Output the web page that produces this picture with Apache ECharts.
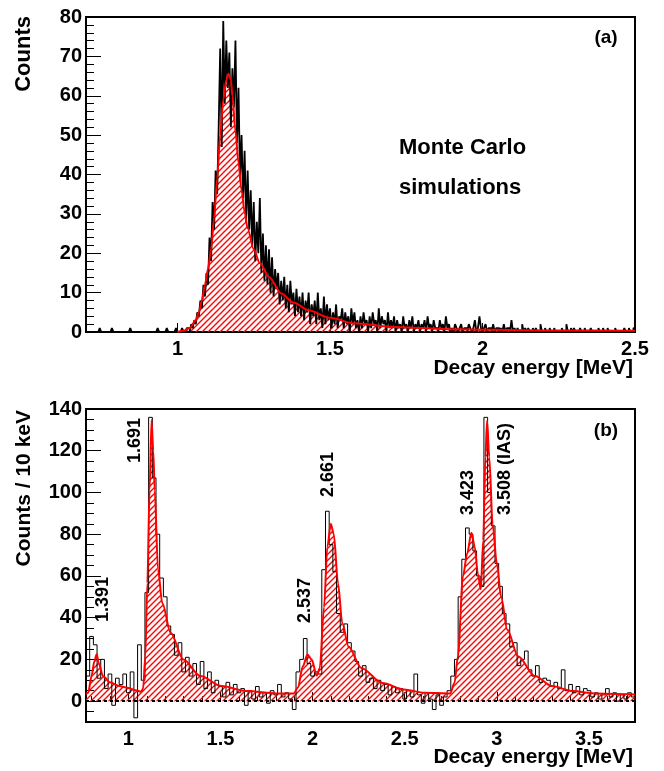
<!DOCTYPE html>
<html><head><meta charset="utf-8">
<script src="https://cdn.jsdelivr.net/npm/echarts@6/dist/echarts.min.js"></script>
<style>html,body{margin:0;padding:0;background:#fff}#c{width:664px;height:771px}</style>
</head><body><div id="c"></div><script>
// ---------- Panel (a): Monte Carlo histogram, 5 keV bins from 0.70 MeV ----------
const topBinStart = 0.70;
const topBinWidth = 0.005;
const topCounts = [
0,0,0,0,0,0,0,0,0,1, 0,0,0,0,0,0,0,1,0,0, 0,0,0,0,0,0,0,0,0,1, 0,0,0,0,0,0,0,0,0,0,
0,0,0,0,0,0,0,1,0,0, 0,0,0,1,0,0,0,0,0,1,
0,0,0,1,0,0,1,1,0,2,
1,3,2,5,4,8,6,12,9,15,
12,24,18,33,26,41,35,52,72,47,
79,58,74,62,71,52,67,57,74,48,
62,39,50,34,46,28,41,26,36,22,
33,18,28,20,34,15,25,13,22,12,
21,10,19,9,16,11,15,7,13,8,
14,6,12,5,13,7,10,4,11,5,
9,4,10,3,8,5,10,2,7,4,
8,2,10,3,6,1,9,2,7,3,
6,1,5,2,7,1,4,3,6,1,
5,2,4,0,6,2,5,1,3,0,
4,1,5,2,3,0,4,1,5,2,
3,0,6,1,4,2,3,0,5,1,
3,1,4,0,3,1,2,0,4,1,
2,0,3,1,4,0,2,1,3,0,
2,1,3,0,4,1,2,0,3,1,
1,0,3,1,2,0,4,1,2,0,
1,0,2,1,0,1,2,0,1,1, 0,2,1,0,1,3,0,1,4,1, 0,1,2,0,1,1,0,2,0,1,
1,0,1,0,2,0,1,1,0,3, 0,1,0,1,0,0,2,0,1,0, 1,0,0,1,0,1,0,0,2,0,
0,1,0,0,1,0,0,1,0,0, 0,0,1,0,0,2,0,0,1,0, 1,0,0,0,1,0,0,1,0,0,
0,1,0,0,0,0,1,0,0,1, 0,0,1,0,0,0,0,1,0,0, 0,0,0,1,0,0,1,0,0,1
];
const topFitE = [1.00,1.02,1.04,1.06,1.07,1.08,1.09,1.10,1.11,1.12,1.13,1.14,1.15,1.16,1.167,1.175,1.18,1.19,1.20,1.21,1.22,1.23,1.25,1.27,1.30,1.34,1.38,1.43,1.50,1.58,1.70,1.90,2.20,2.50];
const topFitV = [0,0.3,1,3,5,8,12,16,21,29,39,50,59,64,65.6,64,60,51,43,36,30.5,26.3,21,17.5,14,9.8,7.5,5.5,3.6,2.2,1.3,0.7,0.4,0.3];
const topXTicks = [1, 1.5, 2, 2.5];

// ---------- Panel (b): measured spectrum, 20 keV bins from 0.77 MeV ----------
const botBinStart = 0.77;
const botBinWidth = 0.02;
const botCounts = [
12,31,27,11,20,6,13,-2,11,8,13,4,14,-8,27,
10,52,136,107,80,59,50,36,32,22,28,14,21,12,18,8,19,6,14,4,10,
7,2,9,3,8,4,6,-2,5,1,7,2,4,-1,5,3,8,2,4,1,-4,
14,20,30,18,12,14,13,63,91,75,62,42,33,37,28,24,19,12,17,9,11,
6,10,5,8,3,7,4,6,1,5,2,13,3,-1,4,1,-4,3,-2,2,5,
12,20,50,68,83,80,72,60,55,136,100,84,66,55,42,37,26,28,17,20,24,
15,12,17,9,11,10,7,9,6,15,5,8,4,7,3,6,5,2,4,1,3,
6,2,4,0,3,1,4,2
];
const botFitE = [0.77,0.782,0.80,0.815,0.828,0.84,0.862,0.90,0.95,1.0,1.04,1.069,1.08,1.092,1.103,1.115,1.126,1.135,1.143,1.161,1.184,1.23,1.299,1.391,1.506,1.644,1.805,1.897,1.92,1.947,1.972,1.995,2.023,2.039,2.062,2.08,2.099,2.115,2.138,2.161,2.195,2.264,2.379,2.494,2.609,2.747,2.77,2.789,2.816,2.839,2.862,2.88,2.897,2.913,2.926,2.938,2.947,2.959,2.977,3.0,3.023,3.057,3.115,3.207,3.299,3.414,3.529,3.75];
const botFitV = [3.5,4,12,19,22.5,18,12,9,7.3,6.3,5.2,4.5,6,21.5,56.5,101,134.7,120,101,63,47,32.6,19.9,12,7.2,4.8,3.7,3.7,6.4,16.7,22.3,19.9,12.2,15.9,45,74,85,80,56.5,37.4,26.2,15.9,8.7,5.6,4,3.7,8.7,21.5,59.7,70.8,80.7,74,61,53.6,77,117,134.4,117,85,66,50,34.2,21.5,12,7.2,4.8,3.7,3.2];
const botXTicks = [1, 1.5, 2, 2.5, 3, 3.5];
const botXMinor = [0.8,0.9,1.1,1.2,1.3,1.4,1.6,1.7,1.8,1.9,2.1,2.2,2.3,2.4,2.6,2.7,2.8,2.9,3.1,3.2,3.3,3.4,3.6,3.7];
const botYTicks = [0,20,40,60,80,100,120,140];
const botYMinor = [-5,5,10,15,25,30,35,45,50,55,65,70,75,85,90,95,105,110,115,125,130,135];
const peakLabels = ['1.391','1.691','2.537','2.661','3.423','3.508 (IAS)'];

// ---------- helpers ----------
function steps(start, width, counts) {
  const pts = [];
  counts.forEach((v, i) => { pts.push([start + i * width, v]); pts.push([start + (i + 1) * width, v]); });
  return pts;
}
function pairs(xs, ys) { return xs.map((x, i) => [x, ys[i]]); }
function hatch() {
  const s = 6, c = document.createElement('canvas');
  c.width = s; c.height = s;
  const g = c.getContext('2d');
  g.strokeStyle = '#ff0000'; g.lineWidth = 1.4; g.lineCap = 'square';
  g.beginPath();
  g.moveTo(0, s); g.lineTo(s, 0);
  g.moveTo(-s, s); g.lineTo(s, -s);
  g.moveTo(0, 2 * s); g.lineTo(2 * s, 0);
  g.stroke();
  return c;
}
const FONT = '"Liberation Sans", Arial, Helvetica, sans-serif';
const lab = (m) => ({ color: '#000', fontWeight: 'bold', fontSize: 20, fontFamily: FONT, margin: m });
const pattern = { image: hatch(), repeat: 'repeat' };

const chart = echarts.init(document.getElementById('c'));
const G0 = { left: 86, top: 17, width: 549, height: 315 };
const G1 = { left: 86, top: 409, width: 549, height: 313 };

function txt(x, y, text, size, align, vAlign, rot) {
  return { type: 'text', x: x, y: y, rotation: rot || 0, z: 100,
    style: { text: text, fill: '#000', fontSize: size, fontWeight: 'bold', fontFamily: FONT,
      align: align, textAlign: align, verticalAlign: vAlign, textVerticalAlign: vAlign } };
}
const R = Math.PI / 2;

chart.setOption({
  animation: false,
  backgroundColor: '#fff',
  grid: [
    Object.assign({ show: true, borderColor: '#000', borderWidth: 2, backgroundColor: 'transparent' }, G0),
    Object.assign({ show: true, borderColor: '#000', borderWidth: 2, backgroundColor: 'transparent' }, G1)
  ],
  xAxis: [
    { type: 'value', gridIndex: 0, position: 'bottom', min: 0.7, max: 2.5,
      axisLine: { show: false }, splitLine: { show: false },
      axisTick: { show: true, inside: true, length: 9, customValues: topXTicks, lineStyle: { color: '#000', width: 1 } },
      axisLabel: Object.assign(lab(7), { customValues: topXTicks }) },
    { type: 'value', gridIndex: 1, position: 'bottom', min: 0.77, max: 3.75,
      axisLine: { show: false }, splitLine: { show: false },
      axisTick: { show: true, inside: true, length: 9, customValues: botXTicks, lineStyle: { color: '#000', width: 1 } },
      axisLabel: Object.assign(lab(7), { customValues: botXTicks }) },
    { type: 'value', gridIndex: 1, position: 'bottom', min: 0.77, max: 3.75,
      axisLine: { show: false }, splitLine: { show: false },
      axisTick: { show: true, inside: true, length: 5, customValues: botXMinor, lineStyle: { color: '#000', width: 1 } },
      axisLabel: { show: false } }
  ],
  yAxis: [
    { type: 'value', gridIndex: 0, position: 'left', min: 0, max: 80, interval: 10,
      axisLine: { show: false }, splitLine: { show: false },
      axisTick: { show: true, inside: true, length: 15, lineStyle: { color: '#000', width: 1 } },
      minorTick: { show: true, splitNumber: 5, length: 8, lineStyle: { color: '#000', width: 1 } },
      axisLabel: lab(4) },
    { type: 'value', gridIndex: 1, position: 'left', min: -10, max: 140,
      axisLine: { show: false }, splitLine: { show: false },
      axisTick: { show: true, inside: true, length: 15, customValues: botYTicks, lineStyle: { color: '#000', width: 1 } },
      axisLabel: Object.assign(lab(4), { customValues: botYTicks }) },
    { type: 'value', gridIndex: 1, position: 'left', min: -10, max: 140,
      axisLine: { show: false }, splitLine: { show: false },
      axisTick: { show: true, inside: true, length: 8, customValues: botYMinor, lineStyle: { color: '#000', width: 1 } },
      axisLabel: { show: false } }
  ],
  series: [
    { type: 'line', xAxisIndex: 0, yAxisIndex: 0, data: pairs(topFitE, topFitV), smooth: 0.3, smoothMonotone: 'x',
      showSymbol: false, lineStyle: { width: 0 }, areaStyle: { color: pattern, opacity: 1 }, z: 1, silent: true },
    { type: 'line', xAxisIndex: 0, yAxisIndex: 0, data: steps(topBinStart, topBinWidth, topCounts),
      showSymbol: false, lineStyle: { color: '#000', width: 1.8 }, z: 2, silent: true },
    { type: 'line', xAxisIndex: 0, yAxisIndex: 0, data: pairs(topFitE, topFitV), smooth: 0.3, smoothMonotone: 'x',
      showSymbol: false, lineStyle: { color: '#ff0000', width: 2 }, z: 3, silent: true },

    { type: 'line', xAxisIndex: 1, yAxisIndex: 1, data: pairs(botFitE, botFitV), smooth: 0.3, smoothMonotone: 'x',
      showSymbol: false, lineStyle: { width: 0 }, areaStyle: { color: pattern, opacity: 1 }, z: 1, silent: true,
      markLine: { silent: true, symbol: ['none', 'none'], label: { show: false },
        lineStyle: { color: '#000', width: 2, type: [3, 3] }, data: [{ yAxis: 0 }] } },
    { type: 'line', xAxisIndex: 1, yAxisIndex: 1, data: steps(botBinStart, botBinWidth, botCounts),
      showSymbol: false, lineStyle: { color: '#000', width: 1 }, z: 2, silent: true },
    { type: 'line', xAxisIndex: 1, yAxisIndex: 1, data: pairs(botFitE, botFitV), smooth: 0.3, smoothMonotone: 'x',
      showSymbol: false, lineStyle: { color: '#ff0000', width: 2 }, z: 3, silent: true }
  ],
  graphic: [
    txt(606, 38, '(a)', 19, 'center', 'middle'),
    txt(606, 431, '(b)', 19, 'center', 'middle'),
    txt(399, 148, 'Monte Carlo', 22, 'left', 'middle'),
    txt(399, 188, 'simulations', 22, 'left', 'middle'),
    txt(24, 16, 'Counts', 22, 'right', 'middle', R),
    txt(24, 410, 'Counts / 10 keV', 21, 'right', 'middle', R),
    txt(633, 368, 'Decay energy [MeV]', 21, 'right', 'middle'),
    txt(633, 757, 'Decay energy [MeV]', 21, 'right', 'middle'),
    txt(103, 622, peakLabels[0], 18, 'left', 'middle', R),
    txt(135, 463, peakLabels[1], 18, 'left', 'middle', R),
    txt(305, 623, peakLabels[2], 18, 'left', 'middle', R),
    txt(328, 497, peakLabels[3], 18, 'left', 'middle', R),
    txt(468, 515, peakLabels[4], 18, 'left', 'middle', R),
    txt(505, 515, peakLabels[5], 18, 'left', 'middle', R)
  ]
});
</script></body></html>
